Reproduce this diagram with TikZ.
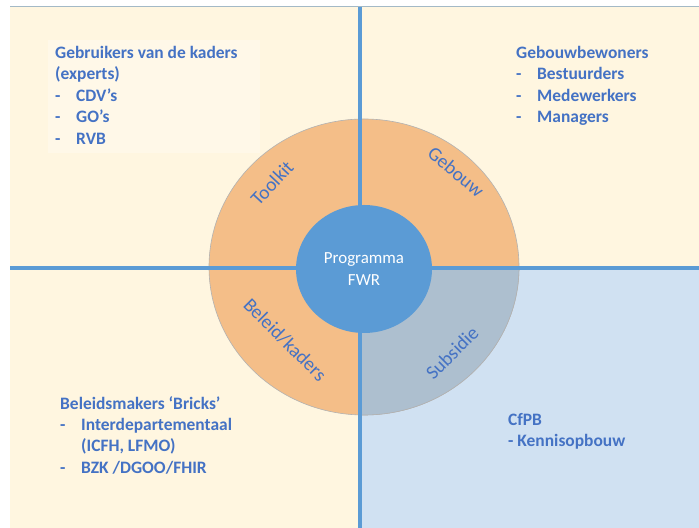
\documentclass[tikz,border=0pt]{standalone}
\usepackage{fontspec}
\setmainfont{Carlito}
\usepackage{tikz}
\definecolor{cream}{HTML}{FFF6E0}
\definecolor{boxcream}{HTML}{FFF8E8}
\definecolor{lightblue}{HTML}{D0E1F2}
\definecolor{ringorange}{HTML}{F4BE88}
\definecolor{ringgrey}{HTML}{ADBFCF}
\definecolor{axisblue}{HTML}{5B9BD5}
\definecolor{textblue}{HTML}{4472C4}
\definecolor{topline}{HTML}{A3B9C6}
\newcommand{\itm}[1]{\makebox[21bp][l]{-}#1}

\begin{document}
\begin{tikzpicture}[x=1bp, y=1bp,
    quadtext/.style={anchor=north west, inner sep=0pt, align=left, text=textblue,
        font=\fontsize{17.5}{21.5}\selectfont\bfseries},
    ringtext/.style={inner sep=0pt, text=textblue, font=\fontsize{19.5}{21}\selectfont}]
                \useasboundingbox (0,0) rectangle (699,528);

                % Background
                \fill[cream] (10,0) rectangle (699,521);
                \draw[topline, line width=1.5bp] (10,521.5) -- (699,521.5);
                \fill[lightblue] (360,0) rectangle (699,260);
                \fill[boxcream] (48,375) rectangle (260,488);

                % Outer ring
                \filldraw[fill=ringorange, draw=gray!60, line width=0.6bp] (364,261) ellipse [x radius=155, y radius=148];
                \begin{scope}
                    \clip (360,0) rectangle (699,260);
                    \filldraw[fill=ringgrey, draw=gray!60, line width=0.6bp] (364,261) ellipse [x radius=155, y radius=148];
                \end{scope}

                % Axes
                \draw[axisblue, line width=4bp] (10,260) -- (699,260);
                \draw[axisblue, line width=4bp] (360,0) -- (360,521);

                % Centre
                \fill[axisblue] (364,259) ellipse [x radius=68, y radius=64];
                \node[white, align=center, font=\fontsize{17}{22}\selectfont] (fwr) at (364,259) {Programma\\FWR};

                % Ring labels
                \node[ringtext, rotate=47] (toolkit) at (272,345) {Toolkit};
                \node[ringtext, rotate=-40] (gebouw) at (456,356) {Gebouw};
                \node[ringtext, rotate=-45] (beleid) at (285,188) {Beleid/kaders};
                \node[ringtext, rotate=45] (subsidie) at (452,175) {Subsidie};

                % Quadrant texts
                \node[quadtext] (experts) at (55,482) {Gebruikers van de kaders\\(experts)\\\itm{CDV’s}\\\itm{GO’s}\\\itm{RVB}};
                \node[quadtext] (bewoners) at (516,482) {Gebouwbewoners\\\itm{Bestuurders}\\\itm{Medewerkers}\\\itm{Managers}};
                \node[quadtext] (bricks) at (60,132) {Beleidsmakers ‘Bricks’\\\itm{Interdepartementaal}\\\hspace*{21bp}(ICFH, LFMO)\\\itm{BZK /DGOO/FHIR}};
                \node[quadtext] (cfpb) at (508,115) {CfPB\\- Kennisopbouw};
\end{tikzpicture}
\end{document}
